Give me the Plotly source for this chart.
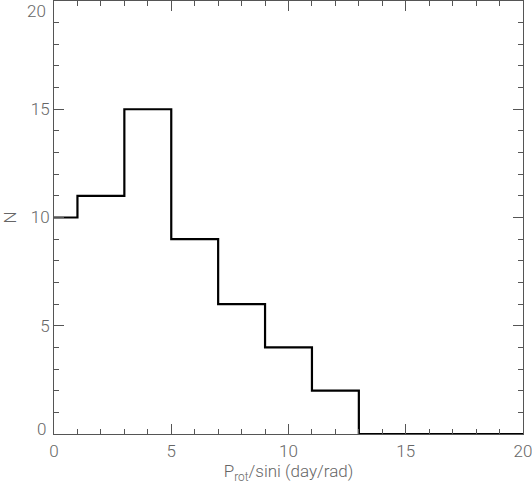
import plotly.graph_objects as go

# histogram of Prot/sin i
bin_edges = [0, 1, 3, 5, 7, 9, 11, 13, 20]
counts = [10, 11, 15, 9, 6, 4, 2, 0]

x_ticks = [0, 5, 10, 15, 20]
y_ticks = [0, 5, 10, 15, 20]

AXIS_GREY = "#555555"
TEXT_GREY = "#666666"
FONT = dict(family="Roboto", size=17, color=TEXT_GREY, weight=300)

step_y = counts + [counts[-1]]

fig = go.Figure(
    go.Scatter(
        x=bin_edges,
        y=step_y,
        mode="lines",
        line=dict(color="black", width=2.2, shape="hv"),
        hoverinfo="skip",
        showlegend=False,
        cliponaxis=False,
    )
)

axis_common = dict(
    showgrid=False,
    zeroline=False,
    showline=True,
    linecolor=AXIS_GREY,
    linewidth=1,
    mirror="allticks",
    ticks="inside",
    ticklen=10,
    tickwidth=1,
    tickcolor=AXIS_GREY,
    tickfont=FONT,
    ticklabeloverflow="allow",
    automargin=False,
    minor=dict(ticks="inside", ticklen=5, tickwidth=1, tickcolor=AXIS_GREY, dtick=1),
)

fig.update_xaxes(
    range=[0, 20],
    tickvals=x_ticks,
    ticktext=[str(v) for v in x_ticks],
    ticklabelstandoff=2,
    title=dict(text="P<sub>rot</sub>/sini (day/rad)", font=FONT, standoff=4),
    **axis_common,
)

# end labels of the y axis sit nudged inside the frame, so they are drawn as annotations
y_inner = y_ticks[1:-1]
fig.update_yaxes(
    range=[0, 20],
    tickvals=y_ticks,
    ticktext=[str(v) if v in y_inner else "" for v in y_ticks],
    title=dict(text="N", font=FONT, standoff=12),
    **axis_common,
)
fig.add_annotation(
    x=0, xref="paper", xanchor="right", xshift=-6,
    y=y_ticks[0], yref="y", yanchor="middle", yshift=5,
    text=str(y_ticks[0]), showarrow=False, font=FONT,
)
fig.add_annotation(
    x=0, xref="paper", xanchor="right", xshift=-6,
    y=y_ticks[-1], yref="y", yanchor="top", yshift=2,
    text=str(y_ticks[-1]), showarrow=False, font=FONT,
)

fig.update_layout(
    width=532,
    height=485,
    margin=dict(l=54, r=9, t=1, b=51),
    paper_bgcolor="white",
    plot_bgcolor="white",
)

fig.write_html(
    "out.html",
    config={"displayModeBar": False},
    post_script="document.body.style.margin='0';document.body.style.overflow='hidden';",
)
